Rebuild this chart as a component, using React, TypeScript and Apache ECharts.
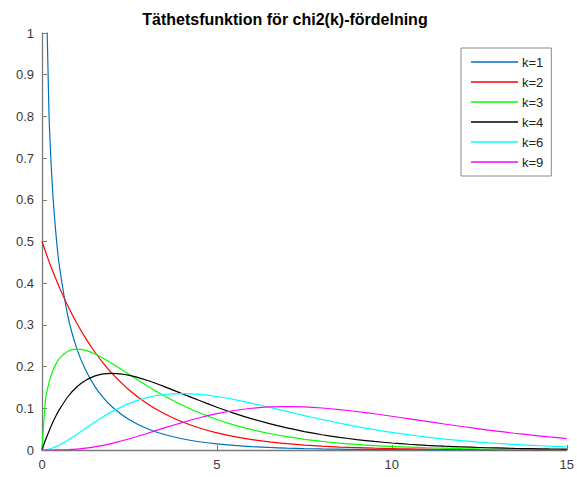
import React, { useEffect, useRef } from "react";
import * as echarts from "echarts";

const xs = [0, 0.1, 0.2, 0.3, 0.4, 0.5, 0.75, 1, 1.25, 1.5, 1.75, 2, 2.5, 3, 3.5, 4, 4.5, 5, 5.5, 6, 6.5, 7, 7.5, 8, 8.5, 9, 9.5, 10, 10.5, 11, 11.5, 12, 12.5, 13, 13.5, 14, 14.5, 15];

const k1 = [null, 1.2, 0.8071, 0.6269, 0.5164, 0.4394, 0.3166, 0.242, 0.191, 0.1539, 0.1257, 0.1038, 0.0723, 0.0514, 0.0371, 0.027, 0.0198, 0.01465, 0.01087, 0.00811, 0.00607, 0.00455, 0.00342, 0.00258, 0.00196, 0.00148, 0.00112, 0.00085, 0.00065, 0.00049, 0.00037, 0.00029, 0.00022, 0.00017, 0.00013, 0.0001, 0.000074, 0.000057];
const k2 = [0.5, 0.4756, 0.4524, 0.4304, 0.4094, 0.3894, 0.3437, 0.3033, 0.2677, 0.2362, 0.2085, 0.1839, 0.1433, 0.1116, 0.0869, 0.0677, 0.0527, 0.041, 0.032, 0.0249, 0.0194, 0.0151, 0.0118, 0.0092, 0.0071, 0.0056, 0.0043, 0.0034, 0.0026, 0.002, 0.0016, 0.0012, 0.001, 0.00075, 0.00058, 0.00046, 0.00036, 0.00028];
const k3 = [0, 0.12, 0.1614, 0.1881, 0.2066, 0.2197, 0.2375, 0.242, 0.2388, 0.2308, 0.22, 0.2076, 0.1807, 0.1542, 0.1297, 0.108, 0.0892, 0.0732, 0.0598, 0.0487, 0.0395, 0.0319, 0.0257, 0.0207, 0.0166, 0.0133, 0.0106, 0.0085, 0.0068, 0.0054, 0.0043, 0.0034, 0.0027, 0.0022, 0.0017, 0.0014, 0.0011, 0.00085];
const k4 = [0, 0.0238, 0.0452, 0.0646, 0.0819, 0.0974, 0.1289, 0.1516, 0.1673, 0.1772, 0.1824, 0.1839, 0.1791, 0.1673, 0.1521, 0.1353, 0.1186, 0.1026, 0.0879, 0.0747, 0.0631, 0.0529, 0.0441, 0.0366, 0.0304, 0.025, 0.0205, 0.0168, 0.0138, 0.0112, 0.0091, 0.0074, 0.006, 0.0049, 0.0039, 0.0032, 0.0026, 0.0021];
const k6 = [0, 0.0006, 0.0023, 0.0048, 0.0082, 0.0122, 0.0242, 0.0379, 0.0523, 0.0664, 0.0798, 0.092, 0.1119, 0.1255, 0.1331, 0.1353, 0.1334, 0.1283, 0.1208, 0.112, 0.1025, 0.0925, 0.0826, 0.0733, 0.0646, 0.0562, 0.0488, 0.0421, 0.0362, 0.0309, 0.0263, 0.0223, 0.0188, 0.0158, 0.0133, 0.0112, 0.0093, 0.0078];
const k9 = [0, 0.0000011, 0.0000123, 0.0000484, 0.000126, 0.000262, 0.000955, 0.0023, 0.00444, 0.00742, 0.01123, 0.01581, 0.02689, 0.03964, 0.05297, 0.0658, 0.07741, 0.08719, 0.09473, 0.1001, 0.1032, 0.1041, 0.1032, 0.1007, 0.097, 0.0923, 0.0869, 0.081, 0.0748, 0.0686, 0.0624, 0.0564, 0.0506, 0.0452, 0.0402, 0.0356, 0.0313, 0.0275];

const seriesNames = ["k=1", "k=2", "k=3", "k=4", "k=6", "k=9"];
const seriesValues = [k1, k2, k3, k4, k6, k9];
const seriesColors = ["#0072BD", "#ff0000", "#00ff00", "#000000", "#00ffff", "#ff00ff"];
const titleText = "Täthetsfunktion för chi2(k)-fördelning";

export default function App() {
  const ref = useRef<HTMLDivElement>(null);
  useEffect(() => {
    document.body.style.margin = "0";
    if (!ref.current) return;
    const chart = echarts.init(ref.current, null, { renderer: "svg" });
    const font = "'Liberation Sans', Arial, sans-serif";
    const axisColor = "#7a7a7a";
    chart.setOption({
      animation: false,
      backgroundColor: "#ffffff",
      graphic: [
        {
          type: "text",
          x: 285,
          y: 19,
          style: {
            text: titleText,
            fontFamily: font,
            fontWeight: "bold",
            fontSize: 16,
            fill: "#000",
            textAlign: "center",
            textVerticalAlign: "middle",
          },
        },
      ],
      grid: { left: 42, right: 8, top: 33, bottom: 27, containLabel: false },
      legend: {
        orient: "vertical",
        left: 461,
        top: 48,
        padding: [7, 8, 7, 10],
        icon: "rect",
        itemWidth: 47,
        itemHeight: 1.5,
        itemGap: 6,
        borderColor: "#8a8a8a",
        borderWidth: 1,
        backgroundColor: "#fff",
        textStyle: { fontFamily: font, fontSize: 13, lineHeight: 14, color: "#222", padding: [0, 0, 0, -1] },
        data: seriesNames,
      },
      xAxis: {
        type: "value",
        min: 0,
        max: 15,
        interval: 5,
        axisLine: { show: true, lineStyle: { color: axisColor, width: 1.3 } },
        axisTick: { show: true, inside: true, length: 5, lineStyle: { color: axisColor } },
        axisLabel: { margin: 8, fontFamily: font, fontSize: 13, color: "#3a3a3a" },
        splitLine: { show: false },
      },
      yAxis: {
        type: "value",
        min: 0,
        max: 1,
        interval: 0.1,
        axisLine: { show: true, lineStyle: { color: axisColor, width: 1.3 } },
        axisTick: { show: true, inside: true, length: 5, lineStyle: { color: axisColor } },
        axisLabel: {
          margin: 8,
          fontFamily: font,
          fontSize: 13,
          color: "#3a3a3a",
          formatter: (v: number) => String(Math.round(v * 10) / 10),
        },
        splitLine: { show: false },
      },
      series: seriesNames.map((name, i) => ({
        name,
        type: "line",
        data: xs.map((x, j) => [x, seriesValues[i][j]]),
        symbol: "none",
        smooth: 0.2,
        clip: true,
        connectNulls: false,
        lineStyle: { color: seriesColors[i], width: 1.2 },
        itemStyle: { color: seriesColors[i] },
      })),
    });
    return () => chart.dispose();
  }, []);
  return <div ref={ref} style={{ width: 577, height: 477 }} />;
}
